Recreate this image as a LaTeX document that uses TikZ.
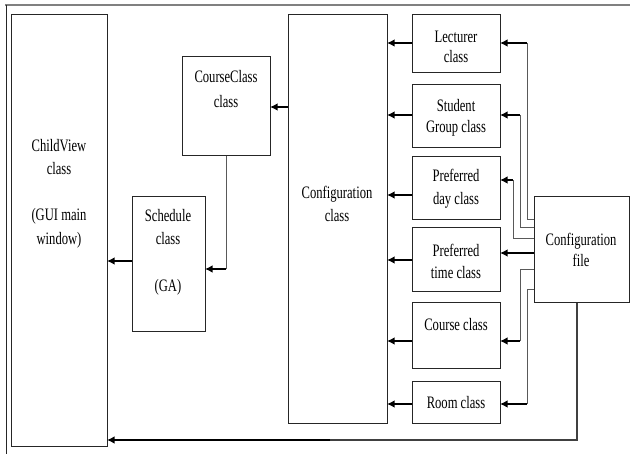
\documentclass[tikz,border=0pt]{standalone}
\usepackage{fontspec}
\setmainfont[FakeStretch=0.72]{Liberation Serif}
\usetikzlibrary{arrows.meta}
\begin{document}
\begin{tikzpicture}[x=1pt,y=-1pt,
  box/.style={draw=black!85, line width=1pt, inner sep=0pt, outer sep=0pt, rectangle},
  lbl/.style={align=center, font=\fontsize{17.5}{22}\selectfont, inner sep=0pt},
  arr/.style={draw=black, line width=1.5pt, -{Latex[length=7.5pt,width=7.5pt]}},
  route/.style={draw=black!65, line width=1pt},
  rarr/.style={draw=black, line width=1.3pt, -{Latex[length=7.5pt,width=7.5pt]}}]
\useasboundingbox (0,0) rectangle (630,454);
% partial frame
\draw[black!50, line width=2pt] (5,5) -- (630,5);
\draw[black!85, line width=0.9pt] (6,5) -- (6,454);

% boxes
\node[box, minimum width=96pt, minimum height=432pt] (cv) at (59,231) {};
\node[box, minimum width=88pt, minimum height=99pt] (cc) at (226,106.5) {};
\node[box, minimum width=73pt, minimum height=135pt] (sch) at (168.5,264.5) {};
\node[box, minimum width=99pt, minimum height=409pt] (cfg) at (337.5,219.5) {};
\node[box, minimum width=88pt, minimum height=58pt] (lec) at (456,44) {};
\node[box, minimum width=88pt, minimum height=63pt] (stu) at (456,116.5) {};
\node[box, minimum width=88pt, minimum height=63pt] (pday) at (456,188.5) {};
\node[box, minimum width=88pt, minimum height=64pt] (ptime) at (456,260) {};
\node[box, minimum width=88pt, minimum height=66pt] (crs) at (456,336) {};
\node[box, minimum width=88pt, minimum height=42pt] (room) at (456,403) {};
\node[box, minimum width=95pt, minimum height=106pt] (cfile) at (581.5,250) {};

% labels
\node[lbl, font=\fontsize{17.5}{23.3}\selectfont] (cvt) at (59,193.5) {ChildView\\class\\[23pt](GUI main\\window)};
\node[lbl, font=\fontsize{17.5}{25}\selectfont] (cct) at (226,89.5) {CourseClass\\class};
\node[lbl, font=\fontsize{17.5}{23.3}\selectfont] (scht) at (168,252) {Schedule\\class\\[23pt](GA)};
\node[lbl, font=\fontsize{17.5}{23}\selectfont] (cfgt) at (337,203.5) {Configuration\\class};
\node[lbl, font=\fontsize{17.5}{20}\selectfont] (lect) at (456,47) {Lecturer\\class};
\node[lbl, font=\fontsize{17.5}{21}\selectfont] (stut) at (456,117.5) {Student\\Group class};
\node[lbl, font=\fontsize{17.5}{23}\selectfont] (pdayt) at (456,188.5) {Preferred\\day class};
\node[lbl] (ptimet) at (456,261) {Preferred\\time class};
\node[lbl] (crst) at (456,325) {Course class};
\node[lbl] (roomt) at (456,403) {Room class};
\node[lbl, font=\fontsize{17.5}{21}\selectfont] (cfilet) at (581,249.5) {Configuration\\file};

% helper levels
\coordinate (y107) at (0,107);
\coordinate (y269) at (0,269);
\coordinate (y261) at (0,261);
\coordinate (y440) at (0,440);
\coordinate (x577) at (577,0);

% main flow
\draw[arr] (cfg.west |- y107) -- (cc.east |- y107);
\draw[route] (cc.south) -- (cc.south |- y269);
\draw[rarr] (cc.south |- y269) -- (sch.east |- y269);
\draw[arr] (sch.west |- y261) -- (cv.east |- y261);

% small boxes to configuration class
\foreach \b/\yy in {lec/43, stu/115, pday/195, ptime/260, crs/341, room/404}
  \draw[arr] (\b.west |- {0,\yy}) -- (cfg.east |- {0,\yy});

% configuration file to small boxes
\draw[route] (cfile.west |- {0,220}) -| (527,43);
\draw[rarr] (527,43) -- (lec.east |- {0,43});
\draw[route] (cfile.west |- {0,228}) -| (520,115);
\draw[rarr] (520,115) -- (stu.east |- {0,115});
\draw[route] (cfile.west |- {0,239}) -| (513,180);
\draw[rarr] (513,180) -- (pday.east |- {0,180});
\draw[arr] (cfile.west |- {0,253}) -- (ptime.east |- {0,253});
\draw[route] (cfile.west |- {0,270}) -| (520,341);
\draw[rarr] (520,341) -- (crs.east |- {0,341});
\draw[route] (cfile.west |- {0,290}) -| (527,404);
\draw[rarr] (527,404) -- (room.east |- {0,404});

% configuration file to ChildView
\draw[route, draw=black!75, line width=1.2pt] (cfile.south -| x577) -- (x577 |- y440) -- (330,440);
\draw[rarr] (330,440) -- (cv.east |- y440);
\end{tikzpicture}
\end{document}
